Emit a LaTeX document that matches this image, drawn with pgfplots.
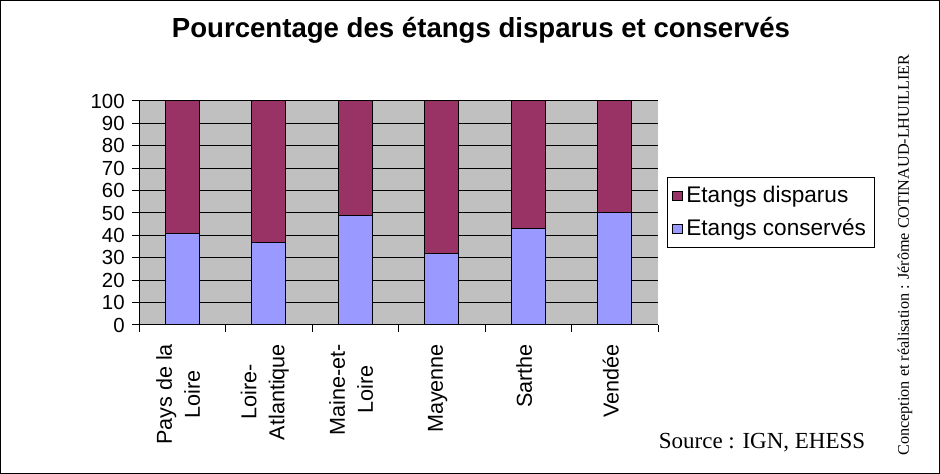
\documentclass[border=0pt]{standalone}
\usepackage{fontspec}
\setmainfont{Liberation Sans}
\newfontfamily\timesf{Liberation Serif}
\usepackage{pgfplots}
\pgfplotsset{compat=1.18}
\definecolor{disp}{HTML}{993366}
\definecolor{cons}{HTML}{9999FF}
\definecolor{bgray}{HTML}{C0C0C0}
\begin{document}
\begin{tikzpicture}[x=1pt,y=1pt]
\draw[line width=0.6pt] (0.3,0.3) rectangle (469.7,236.7);
\node[font=\fontsize{13.8}{15}\selectfont\bfseries] at (240.5,222) {Pourcentage des étangs disparus et conservés};
\node[font=\timesf\fontsize{11.5}{13}\selectfont] at (381,15.5) {Source : IGN, EHESS};
\node[font=\timesf\fontsize{8.1}{9}\selectfont, rotate=90] at (452.5,109.5) {Conception et réalisation : Jérôme COTINAUD-LHUILLIER};
\begin{axis}[
    at={(69.5pt,74.5pt)}, anchor=origin,
    scale only axis, width=259.5pt, height=112pt,
    xmin=0, xmax=6, ymin=0, ymax=100,
    ybar stacked, bar width=0.393,
    axis x line*=bottom, axis y line*=left,
    axis line style={-, line width=0.5pt},
    axis background/.style={fill=bgray},
    ytick={0,10,...,100},
    ymajorgrids, major grid style={black, line width=0.5pt},
    xtick={0,...,6}, xticklabels={},
    extra x ticks={0.5,1.5,2.5,3.5,4.5,5.5},
    extra x tick labels={Pays de la\\Loire, Loire-\\Atlantique, Maine-et-\\Loire, Mayenne, Sarthe, Vendée},
    extra x tick style={major tick length=0pt, grid=none,
        xticklabel style={yshift=-6pt, xshift=-2pt, rotate=90, anchor=east, align=center, font=\fontsize{10.8}{14}\selectfont}},
    tick align=outside, major tick length=3.5pt,
    tick style={black, line width=0.5pt},
    yticklabel style={font=\fontsize{10.2}{11}\selectfont, inner sep=1pt, xshift=-2.5pt},
    /pgf/number format/assume math mode=true,
    legend style={at={(1.017,0.661)}, anchor=north west, draw=black, line width=0.5pt,
        font=\fontsize{11.3}{12.5}\selectfont, row sep=2.5pt, inner sep=2.5pt},
    legend cell align=left, reverse legend,
    legend image code/.code={\draw[#1, line width=0.4pt] (0pt,-2.3pt) rectangle (4.6pt,2.3pt);},
]
\addplot[fill=cons, draw=black, line width=0.5pt] coordinates {(0.5,41) (1.5,37) (2.5,49) (3.5,32) (4.5,43) (5.5,50)};
\addlegendentry{Etangs conservés}
\addplot[fill=disp, draw=black, line width=0.5pt] coordinates {(0.5,59) (1.5,63) (2.5,51) (3.5,68) (4.5,57) (5.5,50)};
\addlegendentry{Etangs disparus}
\end{axis}
\end{tikzpicture}
\end{document}
